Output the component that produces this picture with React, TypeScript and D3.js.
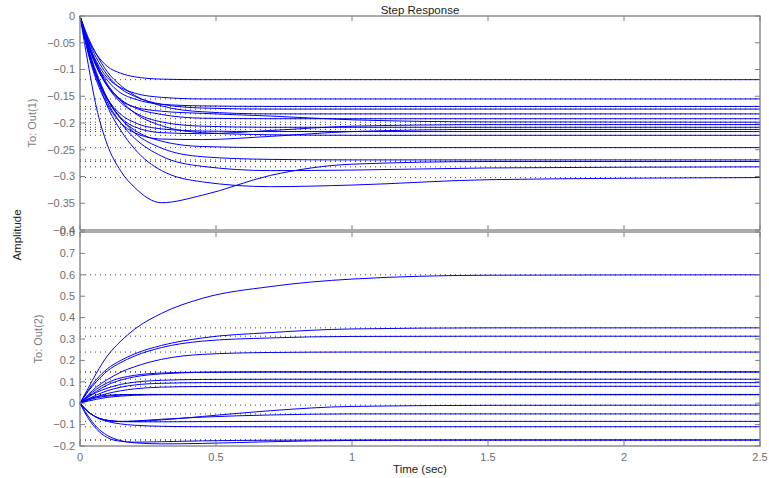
import * as d3 from "d3";

// sample times (sec)
const T = [0, 0.03, 0.06, 0.1, 0.15, 0.2, 0.3, 0.45, 0.7, 1.0, 1.5, 2.5];

// To: Out(1)
const out1 = [
  [0, -0.044, -0.071, -0.094, -0.107, -0.1135, -0.118, -0.119, -0.119, -0.119, -0.119, -0.119],
  [0, -0.051, -0.085, -0.115, -0.134, -0.144, -0.152, -0.155, -0.155, -0.155, -0.155, -0.155],
  [0, -0.052, -0.09, -0.12, -0.144, -0.155, -0.165, -0.168, -0.169, -0.169, -0.169, -0.169],
  [0, -0.045, -0.078, -0.11, -0.136, -0.15, -0.165, -0.172, -0.174, -0.174, -0.174, -0.174],
  [0, -0.04, -0.071, -0.104, -0.13, -0.148, -0.168, -0.179, -0.183, -0.183, -0.183, -0.183],
  [0, -0.05, -0.09, -0.13, -0.158, -0.17, -0.178, -0.182, -0.187, -0.194, -0.198, -0.1985],
  [0, -0.054, -0.094, -0.129, -0.156, -0.171, -0.184, -0.191, -0.192, -0.192, -0.192, -0.192],
  [0, -0.065, -0.11, -0.155, -0.19, -0.207, -0.218, -0.22, -0.214, -0.206, -0.203, -0.203],
  [0, -0.054, -0.094, -0.131, -0.162, -0.18, -0.198, -0.206, -0.208, -0.208, -0.208, -0.208],
  [0, -0.07, -0.12, -0.165, -0.2, -0.218, -0.23, -0.231, -0.225, -0.216, -0.212, -0.212],
  [0, -0.067, -0.115, -0.154, -0.184, -0.199, -0.211, -0.215, -0.216, -0.216, -0.216, -0.216],
  [0, -0.049, -0.087, -0.127, -0.158, -0.181, -0.205, -0.218, -0.222, -0.223, -0.223, -0.223],
  [0, -0.064, -0.111, -0.155, -0.192, -0.213, -0.234, -0.244, -0.246, -0.246, -0.246, -0.246],
  [0, -0.059, -0.105, -0.153, -0.191, -0.218, -0.247, -0.263, -0.268, -0.269, -0.269, -0.269],
  [0, -0.062, -0.11, -0.16, -0.2, -0.228, -0.262, -0.281, -0.289, -0.288, -0.284, -0.282],
  [0, -0.062, -0.112, -0.168, -0.214, -0.248, -0.289, -0.31, -0.319, -0.316, -0.306, -0.302],
  [0, -0.09, -0.17, -0.24, -0.29, -0.32, -0.349, -0.335, -0.298, -0.277, -0.272, -0.272],
];

// To: Out(2)
const out2 = [
  [0, 0.07, 0.14, 0.22, 0.29, 0.345, 0.42, 0.49, 0.545, 0.58, 0.598, 0.6],
  [0, 0.06, 0.11, 0.16, 0.2, 0.23, 0.27, 0.305, 0.33, 0.347, 0.352, 0.352],
  [0, 0.055, 0.1, 0.15, 0.19, 0.22, 0.26, 0.29, 0.305, 0.312, 0.313, 0.313],
  [0, 0.04, 0.075, 0.11, 0.145, 0.17, 0.205, 0.228, 0.237, 0.239, 0.239, 0.239],
  [0, 0.035, 0.065, 0.095, 0.118, 0.13, 0.141, 0.145, 0.146, 0.146, 0.146, 0.146],
  [0, 0.03, 0.055, 0.085, 0.108, 0.123, 0.137, 0.144, 0.146, 0.146, 0.146, 0.146],
  [0, 0.028, 0.05, 0.07, 0.088, 0.098, 0.107, 0.111, 0.112, 0.112, 0.112, 0.112],
  [0, 0.02, 0.038, 0.058, 0.075, 0.085, 0.093, 0.096, 0.096, 0.096, 0.096, 0.096],
  [0, 0.015, 0.03, 0.045, 0.058, 0.067, 0.075, 0.078, 0.079, 0.079, 0.079, 0.079],
  [0, 0.015, 0.025, 0.033, 0.038, 0.04, 0.04, 0.04, 0.04, 0.04, 0.04, 0.04],
  [0, 0.01, 0.018, 0.027, 0.033, 0.037, 0.04, 0.04, 0.04, 0.04, 0.04, 0.04],
  [0, 0.02, 0.03, 0.037, 0.04, 0.041, 0.041, 0.041, 0.041, 0.041, 0.041, 0.041],
  [0, -0.04, -0.065, -0.08, -0.086, -0.085, -0.078, -0.062, -0.035, -0.015, -0.01, -0.009],
  [0, -0.04, -0.065, -0.08, -0.085, -0.083, -0.075, -0.065, -0.055, -0.05, -0.05, -0.05],
  [0, -0.04, -0.065, -0.08, -0.086, -0.087, -0.087, -0.086, -0.085, -0.085, -0.085, -0.085],
  [0, -0.04, -0.066, -0.085, -0.097, -0.103, -0.108, -0.11, -0.11, -0.11, -0.11, -0.11],
  [0, -0.06, -0.11, -0.15, -0.175, -0.185, -0.19, -0.188, -0.18, -0.174, -0.172, -0.172],
  [0, -0.07, -0.12, -0.16, -0.178, -0.182, -0.18, -0.176, -0.173, -0.172, -0.172, -0.172],
];

const xTicks = [0, 0.5, 1, 1.5, 2, 2.5];
const xTickLabels = ["0", "0.5", "1", "1.5", "2", "2.5"];
const y1Ticks = [0, -0.05, -0.1, -0.15, -0.2, -0.25, -0.3, -0.35, -0.4];
const y1TickLabels = ["0", "−0.05", "−0.1", "−0.15", "−0.2", "−0.25", "−0.3", "−0.35", "−0.4"];
const y2Ticks = [-0.2, -0.1, 0, 0.1, 0.2, 0.3, 0.4, 0.5, 0.6, 0.7, 0.8];
const y2TickLabels = ["−0.2", "−0.1", "0", "0.1", "0.2", "0.3", "0.4", "0.5", "0.6", "0.7", "0.8"];

const W = 769;
const H = 478;
const left = 80;
const right = 760;
const axisGrey = "#7f7f7f";
const font = "'Liberation Sans', Arial, sans-serif";

const x = d3.scaleLinear().domain([0, 2.5]).range([left, right]);

function Panel({ data, ticks, labels, domain, top, bottom, name }) {
  const y = d3.scaleLinear().domain(domain).range([bottom, top]);
  const line = d3
    .line<number>()
    .x((_, i) => x(T[i]))
    .y((d) => y(d))
    .curve(d3.curveMonotoneX);
  const tk = 5;
  return (
    <g>
      {data.map((s, i) => (
        <path key={"c" + i} d={line(s) || ""} fill="none" stroke="#0000ff" strokeWidth={1} />
      ))}
      {data.map((s, i) => (
        <line
          key={"d" + i}
          x1={x(0)}
          x2={x(2.5)}
          y1={y(s[s.length - 1])}
          y2={y(s[s.length - 1])}
          stroke="#000"
          strokeWidth={1}
          strokeDasharray="1,4"
          opacity={0.75}
        />
      ))}
      <rect x={left} y={top} width={right - left} height={bottom - top} fill="none" stroke={axisGrey} strokeWidth={1.3} />
      {xTicks.map((t, i) => (
        <g key={"xt" + i}>
          <line x1={x(t)} x2={x(t)} y1={bottom} y2={bottom - tk} stroke={axisGrey} />
          <line x1={x(t)} x2={x(t)} y1={top} y2={top + tk} stroke={axisGrey} />
        </g>
      ))}
      {ticks.map((t, i) => (
        <g key={"yt" + i}>
          <line x1={left} x2={left + tk} y1={y(t)} y2={y(t)} stroke={axisGrey} />
          <line x1={right} x2={right - tk} y1={y(t)} y2={y(t)} stroke={axisGrey} />
          <text x={left - 5} y={y(t)} dy="0.35em" textAnchor="end" fontSize={11} fill="#6e6e6e" fontFamily={font}>
            {labels[i]}
          </text>
        </g>
      ))}
      <text
        transform={`translate(${name.x},${(top + bottom) / 2}) rotate(-90)`}
        textAnchor="middle"
        fontSize={11}
        fill="#7a7a7a"
        fontFamily={font}
      >
        {name.text}
      </text>
    </g>
  );
}

export default function App() {
  const top1 = 16, bot1 = 230, top2 = 232, bot2 = 446;
  return (
    <svg width={W} height={H} style={{ position: "fixed", left: 0, top: 0, background: "#fff" }}>
      <Panel data={out1} ticks={y1Ticks} labels={y1TickLabels} domain={[-0.4, 0]} top={top1} bottom={bot1} name={{ x: 36, text: "To: Out(1)" }} />
      <Panel data={out2} ticks={y2Ticks} labels={y2TickLabels} domain={[-0.2, 0.8]} top={top2} bottom={bot2} name={{ x: 42, text: "To: Out(2)" }} />
      {xTicks.map((t, i) => (
        <text key={i} x={x(t)} y={461} textAnchor="middle" fontSize={11} fill="#6e6e6e" fontFamily={font}>
          {xTickLabels[i]}
        </text>
      ))}
      <text x={420} y={473} textAnchor="middle" fontSize={11.5} fill="#222" fontFamily={font}>
        Time (sec)
      </text>
      <text x={420} y={14} textAnchor="middle" fontSize={11.5} fill="#222" fontFamily={font}>
        Step Response
      </text>
      <text transform="translate(21,235) rotate(-90)" textAnchor="middle" fontSize={11.5} fill="#222" fontFamily={font}>
        Amplitude
      </text>
    </svg>
  );
}
